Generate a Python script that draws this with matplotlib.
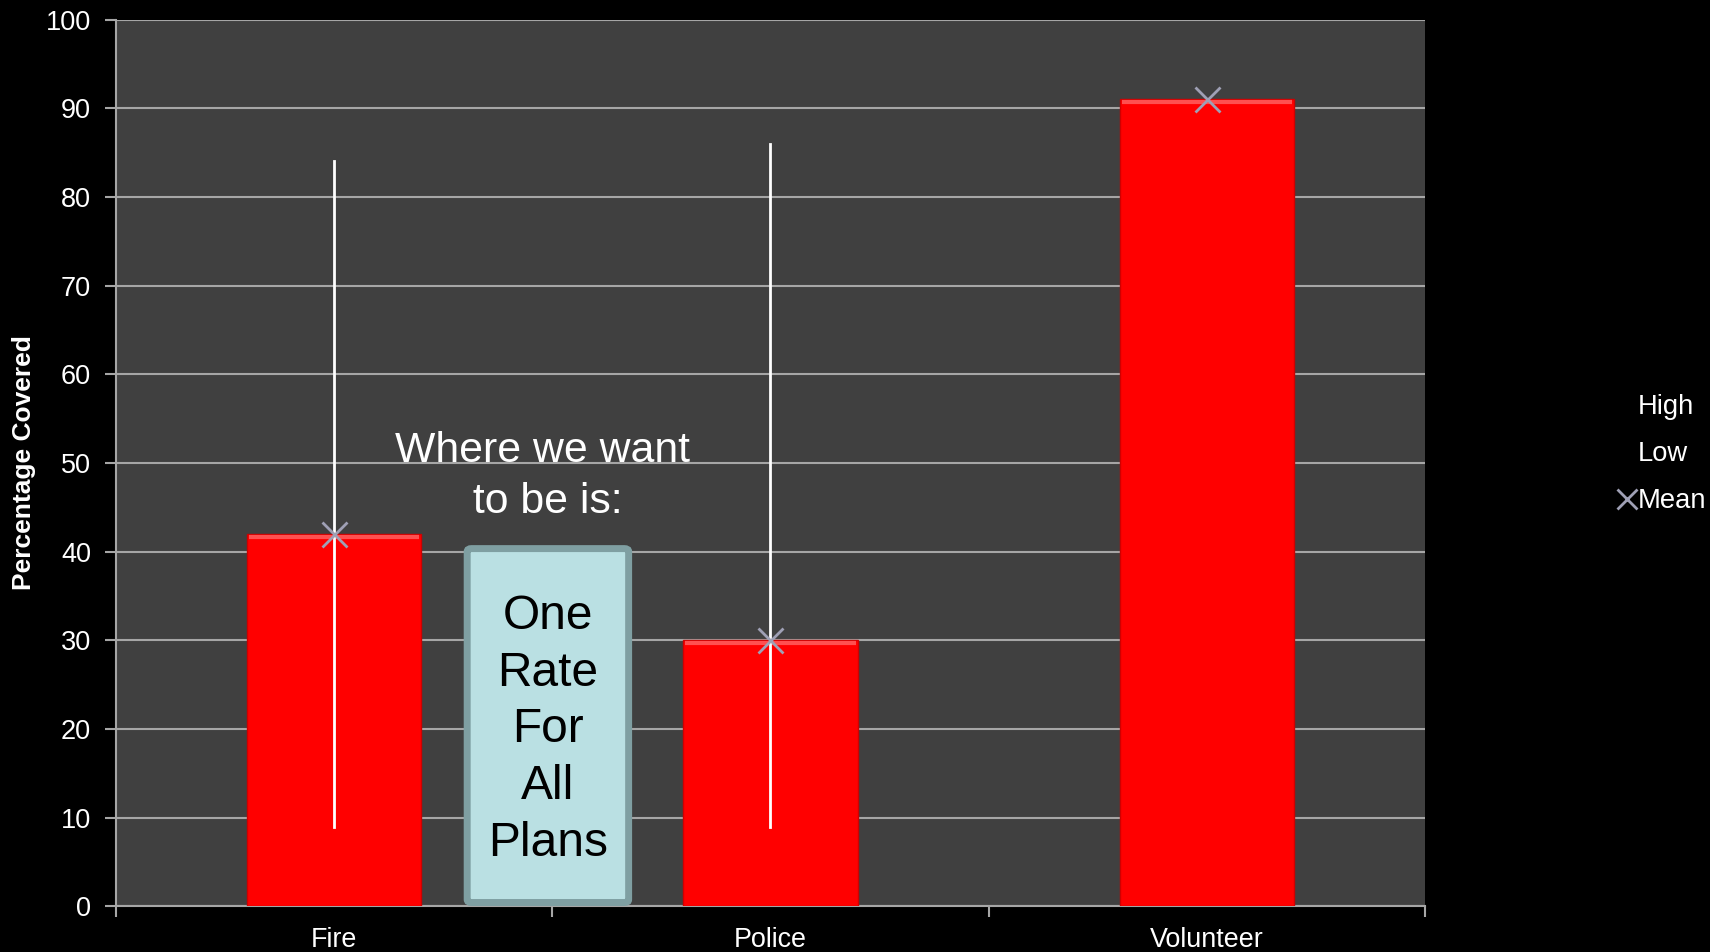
import matplotlib.pyplot as plt
from matplotlib.lines import Line2D
from matplotlib.patches import FancyBboxPatch

plt.rcParams['font.family'] = ['Liberation Sans', 'DejaVu Sans']

categories = ['Fire', 'Police', 'Volunteer']
mean_values = [42, 30, 91]
high_values = [84, 86, 91]
low_values = [9, 9, 91]
y_ticks = [0, 10, 20, 30, 40, 50, 60, 70, 80, 90, 100]

fig = plt.figure(figsize=(17.1, 9.52), dpi=100, facecolor='black')
ax = fig.add_axes([0.0678, 0.0478, 0.7655, 0.9317])
ax.set_facecolor('#404040')

x = list(range(len(categories)))
bars = ax.bar(x, mean_values, width=0.4, color='#FF0000', edgecolor='#D00000',
              linewidth=1.0, zorder=3)
# light bevel along the top of each bar
for xi, v in zip(x, mean_values):
    ax.plot([xi - 0.195, xi + 0.195], [v - 0.3, v - 0.3], color='#FF5050',
            lw=3, zorder=4, solid_capstyle='butt')

# high-low lines
for xi, lo, hi in zip(x, low_values, high_values):
    if hi > lo:
        ax.plot([xi, xi], [lo, hi], color='white', lw=2, zorder=5)

ax.plot(x, mean_values, linestyle='none', marker='x', markersize=18,
        markeredgewidth=2, color='#9FA0B5', zorder=6)

ax.set_xlim(-0.5, 2.5)
ax.set_ylim(0, 100)
ax.set_yticks(y_ticks)
ax.yaxis.grid(True, color='#A6A6A6', lw=1.5, zorder=1)
ax.set_axisbelow(True)

ax.set_xticks([-0.5, 0.5, 1.5, 2.5])
ax.set_xticklabels([])
ax.set_xticks(x, minor=True)
ax.set_xticklabels(categories, minor=True)
ax.tick_params(axis='x', which='minor', length=0, labelsize=19.4,
               labelcolor='white', pad=15)
ax.tick_params(axis='x', which='major', length=8, color='#A6A6A6', width=1.5)
ax.tick_params(axis='y', length=8, color='#A6A6A6', width=1.5, labelsize=19.5,
               labelcolor='white', pad=10)

for side in ['top', 'right']:
    ax.spines[side].set_visible(False)
for side in ['left', 'bottom']:
    ax.spines[side].set_color('#A6A6A6')
    ax.spines[side].set_linewidth(1.5)

ax.set_ylabel('Percentage Covered', color='white', fontsize=19,
              fontweight='bold', va='center')
ax.yaxis.set_label_coords(-0.0703, 0.5)

# callout
box = FancyBboxPatch((0.305, 0.45), 0.37, 39.9,
                     boxstyle='round,pad=0,rounding_size=0.01',
                     facecolor='#BAE0E3', edgecolor='#7F9FA2', linewidth=5,
                     zorder=7, mutation_aspect=100 / 3)
ax.add_patch(box)
ax.text(0.49, 19.9, 'One\nRate\nFor\nAll\nPlans', ha='center', va='center',
        fontsize=34.5, color='black', linespacing=1.33, zorder=8)
ax.text(0.477, 48.5, 'Where we want\n to be is:', ha='center', va='center',
        fontsize=30.8, color='white', linespacing=1.35, zorder=8)

handles = [Line2D([], [], linestyle='none'),
           Line2D([], [], linestyle='none'),
           Line2D([], [], linestyle='none', marker='x', markersize=14,
                  markeredgewidth=2, color='#9FA0B5')]
leg = fig.legend(handles, ['High', 'Low', 'Mean'], loc='center left',
                 bbox_to_anchor=(0.938, 0.523), frameon=False, fontsize=19.7,
                 labelcolor='white', handlelength=0.7, handletextpad=0.05,
                 labelspacing=0.78, borderpad=0)

fig.savefig('out.png', dpi=100, facecolor='black')
